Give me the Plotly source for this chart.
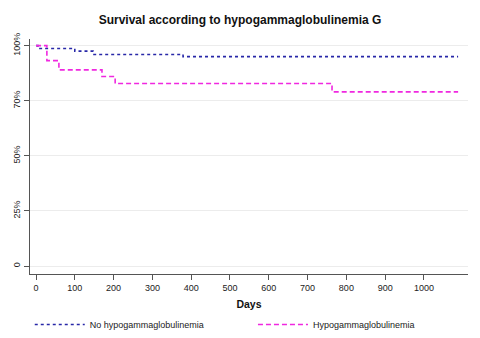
import plotly.graph_objects as go

# Kaplan-Meier step data (days, survival proportion)
no_hypo_days = [0, 5, 100, 147, 379, 1088]
no_hypo_surv = [1.0, 0.987, 0.975, 0.96, 0.95, 0.95]

hypo_days = [0, 28, 59, 170, 204, 763, 1088]
hypo_surv = [1.0, 0.932, 0.89, 0.86, 0.828, 0.79, 0.79]

x_ticks = [0, 100, 200, 300, 400, 500, 600, 700, 800, 900, 1000]
y_ticks = [0, 0.25, 0.5, 0.75, 1.0]
y_tick_labels = ["0", "25%", "50%", "70%", "100%"]

fig = go.Figure()
fig.add_trace(go.Scatter(
    x=no_hypo_days, y=no_hypo_surv, mode="lines", line_shape="hv",
    name="No hypogammaglobulinemia", legend="legend",
    line=dict(color="#2828a8", width=1.6, dash="dot"),
))
fig.add_trace(go.Scatter(
    x=hypo_days, y=hypo_surv, mode="lines", line_shape="hv",
    name="Hypogammaglobulinemia", legend="legend2",
    line=dict(color="#f028e0", width=1.6, dash="5px,3px"),
))

font_family = "Liberation Sans, Arial, sans-serif"
leg_common = dict(orientation="h", xref="container", yref="container",
                  y=0.04, xanchor="left", yanchor="middle",
                  font=dict(size=9, color="#222"), itemwidth=50)
fig.update_layout(
    width=480, height=338,
    margin=dict(l=30, r=12, t=39, b=64, autoexpand=False),
    paper_bgcolor="white", plot_bgcolor="white",
    font=dict(family=font_family, size=9, color="#222"),
    title=dict(text="<b>Survival according to hypogammaglobulinemia G</b>",
               x=0.5, xanchor="center", y=0.94, yanchor="middle",
               font=dict(size=12, color="#111")),
    showlegend=True,
    legend=dict(x=0.062, **leg_common),
    legend2=dict(x=0.527, **leg_common),
)
fig.update_xaxes(
    range=[-15.5, 1113.5], tickvals=x_ticks, ticks="outside", ticklen=5,
    tickcolor="#555", showline=True, linecolor="#555", linewidth=1,
    showgrid=False, zeroline=False,
    title=dict(text="<b>Days</b>", font=dict(size=10.5, color="#111"), standoff=10),
)
fig.update_yaxes(
    range=[-0.036, 1.03], tickvals=y_ticks, ticktext=y_tick_labels,
    tickangle=-90, ticks="outside", ticklen=5, tickcolor="#555",
    showline=True, linecolor="#555", linewidth=1,
    showgrid=True, gridcolor="#ececec", gridwidth=1, zeroline=False,
)

fig.write_html("out.html")
